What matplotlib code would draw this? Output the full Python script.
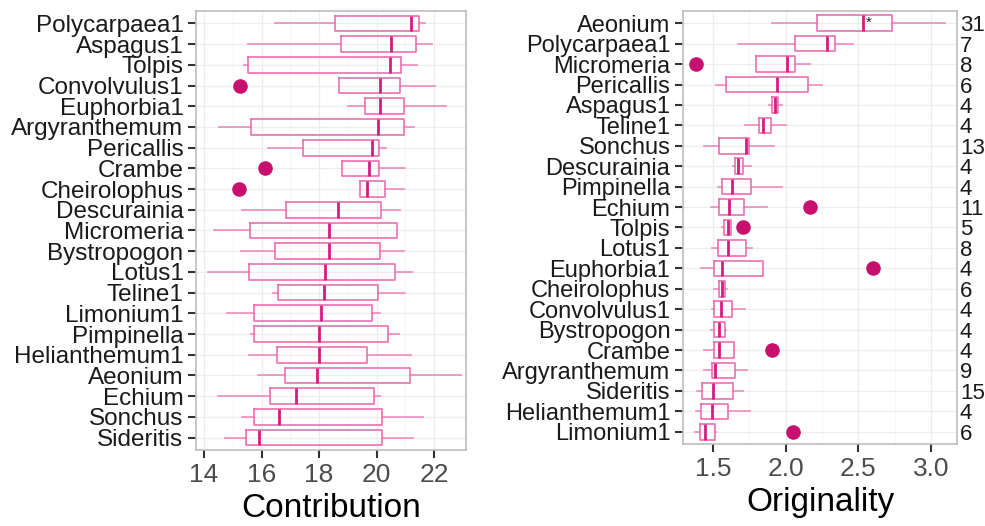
import numpy as np
import matplotlib.pyplot as plt

plt.rcParams['font.family'] = ['Liberation Sans', 'DejaVu Sans']

# left panel: Contribution
contrib_names = ["Polycarpaea1", "Aspagus1", "Tolpis", "Convolvulus1", "Euphorbia1",
                 "Argyranthemum", "Pericallis", "Crambe", "Cheirolophus", "Descurainia",
                 "Micromeria", "Bystropogon", "Lotus1", "Teline1", "Limonium1",
                 "Pimpinella", "Helianthemum1", "Aeonium", "Echium", "Sonchus", "Sideritis"]
contrib_wlo = [16.46, 15.52, 15.40, 18.70, 19.00, 14.53, 16.24, 18.79, 19.42, 15.32, 14.36,
               15.29, 14.13, 16.41, 14.80, 15.63, 15.55, 15.89, 14.49, 15.32, 14.74]
contrib_q1 = [18.56, 18.77, 15.52, 18.70, 19.59, 15.65, 17.45, 18.79, 19.42, 16.85, 15.59,
              16.46, 15.57, 16.58, 15.73, 15.73, 16.53, 16.83, 16.30, 15.75, 15.47]
contrib_med = [21.20, 20.50, 20.48, 20.12, 20.12, 20.04, 19.85, 19.73, 19.67, 18.66, 18.36,
               18.36, 18.21, 18.18, 18.07, 18.01, 18.01, 17.92, 17.21, 16.62, 15.91]
contrib_q3 = [21.47, 21.36, 20.86, 20.83, 20.95, 20.95, 20.09, 20.08, 20.29, 20.17, 20.72,
              20.13, 20.65, 20.06, 19.83, 20.40, 19.66, 21.17, 19.90, 20.20, 20.20]
contrib_whi = [21.70, 21.93, 21.40, 22.05, 22.42, 21.32, 20.34, 20.99, 20.95, 20.82, 20.72,
               20.96, 21.22, 20.98, 20.12, 20.77, 21.20, 22.95, 20.11, 21.62, 21.28]
contrib_dot = [np.nan, np.nan, np.nan, 15.24, np.nan, np.nan, np.nan, 16.12, 15.23, np.nan,
               np.nan, np.nan, np.nan, np.nan, np.nan, np.nan, np.nan, np.nan, np.nan, np.nan, np.nan]

# right panel: Originality
orig_names = ["Aeonium", "Polycarpaea1", "Micromeria", "Pericallis", "Aspagus1", "Teline1",
              "Sonchus", "Descurainia", "Pimpinella", "Echium", "Tolpis", "Lotus1",
              "Euphorbia1", "Cheirolophus", "Convolvulus1", "Bystropogon", "Crambe",
              "Argyranthemum", "Sideritis", "Helianthemum1", "Limonium1"]
orig_wlo = [1.908, 1.672, 1.796, 1.518, 1.885, 1.720, 1.440, 1.640, 1.537, 1.484, 1.562,
            1.491, 1.419, 1.505, 1.493, 1.484, 1.440, 1.440, 1.390, 1.385, 1.378]
orig_q1 = [2.216, 2.062, 1.796, 1.587, 1.904, 1.819, 1.543, 1.654, 1.564, 1.541, 1.578,
           1.532, 1.507, 1.541, 1.505, 1.505, 1.505, 1.491, 1.426, 1.419, 1.413]
orig_med = [2.532, 2.287, 2.009, 1.940, 1.924, 1.844, 1.729, 1.674, 1.633, 1.608, 1.605,
            1.605, 1.564, 1.560, 1.557, 1.541, 1.541, 1.512, 1.498, 1.491, 1.445]
orig_q3 = [2.732, 2.337, 2.062, 2.156, 1.945, 1.897, 1.750, 1.706, 1.762, 1.713, 1.622,
           1.727, 1.844, 1.580, 1.633, 1.580, 1.645, 1.649, 1.640, 1.601, 1.512]
orig_whi = [3.099, 2.466, 2.167, 2.252, 1.975, 2.000, 1.920, 1.759, 1.973, 1.874, 1.624,
            1.766, 1.844, 1.594, 1.720, 1.590, 1.645, 1.732, 1.706, 1.757, 1.521]
orig_dot = [np.nan, np.nan, 1.381, np.nan, np.nan, np.nan, np.nan, np.nan, np.nan, 2.167, 1.709,
            np.nan, 2.603, np.nan, np.nan, np.nan, 1.908, np.nan, np.nan, np.nan, 2.053]
orig_n = [31, 7, 8, 6, 4, 4, 13, 4, 4, 11, 5, 8, 4, 6, 4, 4, 4, 9, 15, 4, 6]
star_x = 2.57

box_col = '#EC6FB0'
med_col = '#D81B7F'
dot_col = '#C8106F'
grid_col = '#EDEDED'


def draw_panel(ax, names, wlo, q1, med, q3, whi, dots, xlim, xticks, xlabel, ysize):
    n = len(names)
    pos = np.arange(1, n + 1)
    stats = [dict(whislo=a, q1=b, med=c, q3=d, whishi=e, fliers=[])
             for a, b, c, d, e in zip(wlo, q1, med, q3, whi)]
    ax.bxp(stats, positions=pos, widths=0.76, vert=False, showcaps=False,
           boxprops=dict(color=box_col, linewidth=1.2),
           whiskerprops=dict(color=box_col, linewidth=1.2, alpha=0.8),
           medianprops=dict(color=med_col, linewidth=2.0))
    ax.scatter(dots, pos, s=110, color=dot_col, zorder=3, linewidths=0)
    ax.set_ylim(n + 0.6, 0.4)
    ax.set_xlim(*xlim)
    ax.set_yticks(pos)
    ax.set_yticklabels(names)
    ax.set_xticks(xticks)
    ax.set_xticklabels([str(t) for t in xticks])
    minor = [(a + b) / 2 for a, b in zip(xticks[:-1], xticks[1:])]
    ax.set_xticks(minor, minor=True)
    ax.grid(True, which='major', color=grid_col, linewidth=0.9, zorder=0)
    ax.grid(True, which='minor', axis='x', color='#F5F5F5', linewidth=0.6, zorder=0)
    ax.set_axisbelow(True)
    ax.tick_params(axis='x', which='minor', length=0)
    ax.tick_params(axis='both', which='major', length=6, width=1.5, color='#333333')
    ax.tick_params(axis='x', labelsize=19, labelcolor='#4D4D4D')
    ax.tick_params(axis='y', labelsize=ysize, labelcolor='#1A1A1A', pad=3)
    for s in ax.spines.values():
        s.set_color('#BDBDBD')
        s.set_linewidth(1.2)
    ax.set_xlabel(xlabel, fontsize=24, color='black', labelpad=4)


fig = plt.figure(figsize=(9.85, 5.26), dpi=100)
ax1 = fig.add_axes([0.199, 0.1445, 0.274, 0.8346])
ax2 = fig.add_axes([0.6934, 0.1559, 0.2782, 0.8232])

draw_panel(ax1, contrib_names, contrib_wlo, contrib_q1, contrib_med, contrib_q3,
           contrib_whi, contrib_dot, (13.72, 23.11), [14, 16, 18, 20, 22], "Contribution", 17.5)
draw_panel(ax2, orig_names, orig_wlo, orig_q1, orig_med, orig_q3,
           orig_whi, orig_dot, (1.294, 3.179), [1.5, 2.0, 2.5, 3.0], "Originality", 17)

ax2.text(star_x, 1, '*', ha='center', va='center', fontsize=11, color='#222222')

ax2r = ax2.twinx()
ax2r.set_ylim(ax2.get_ylim())
ax2r.set_yticks(np.arange(1, len(orig_n) + 1))
ax2r.set_yticklabels([str(v) for v in orig_n])
ax2r.tick_params(axis='y', length=0, labelsize=16, labelcolor='#1A1A1A', pad=2)
for s in ax2r.spines.values():
    s.set_visible(False)

fig.savefig('out.png', dpi=100)
